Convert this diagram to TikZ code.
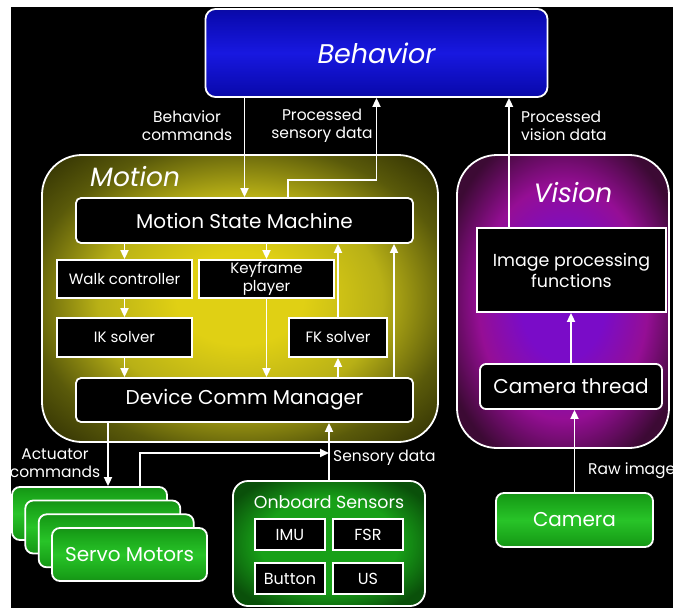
\documentclass[tikz,border=0pt]{standalone}
\usepackage{fontspec}
\setmainfont{Poppins}
\usetikzlibrary{arrows.meta,calc}

\definecolor{bdark}{HTML}{0C0C48}
\definecolor{bmid}{HTML}{0A0AB0}
\definecolor{bbright}{HTML}{1818E0}
\definecolor{mcen}{HTML}{E0D014}
\definecolor{mmid}{HTML}{B8B016}
\definecolor{medge}{HTML}{5A5A0A}
\definecolor{mcorner}{HTML}{2A2A02}
\definecolor{vcen}{HTML}{7A0CC8}
\definecolor{vmid}{HTML}{950E95}
\definecolor{vedge}{HTML}{3C0A34}
\definecolor{gbright}{HTML}{28C428}
\definecolor{gmid}{HTML}{18A018}
\definecolor{gdark}{HTML}{0A500A}

\pgfdeclareverticalshading{behshade}{100bp}{color(0bp)=(bdark); color(28bp)=(bmid); color(50bp)=(bbright); color(72bp)=(bmid); color(100bp)=(bdark)}
\pgfdeclareverticalshading{greenshade}{100bp}{color(0bp)=(gdark); color(30bp)=(gmid); color(50bp)=(gbright); color(70bp)=(gmid); color(100bp)=(gdark)}
\pgfdeclareradialshading{motionshade}{\pgfpoint{0bp}{0bp}}{color(0bp)=(mcen); color(8bp)=(mcen); color(18bp)=(mmid); color(27bp)=(medge); color(36bp)=(mcorner); color(50bp)=(mcorner)}
\pgfdeclareradialshading{visionshade}{\pgfpoint{0bp}{0bp}}{color(0bp)=(vcen); color(10bp)=(vcen); color(20bp)=(vmid); color(30bp)=(vedge); color(50bp)=(vedge)}
\pgfdeclareradialshading{sensshade}{\pgfpoint{0bp}{0bp}}{color(0bp)=(gmid); color(18bp)=(gmid); color(30bp)=(gdark); color(50bp)=(gdark)}

\tikzset{
  wline/.style={draw=white, line width=1.8pt},
  arr/.style={white, line width=1.8pt, -{Triangle[length=9pt,width=8pt]}},
  blackbox/.style={wline, fill=black, text=white, inner sep=0pt, font=\fontsize{15}{18}\selectfont, align=center},
  bigbox/.style={blackbox, rounded corners=5pt, font=\fontsize{20}{22}\selectfont},
  container/.style={wline, rounded corners=40pt, inner sep=0pt},
  greenbox/.style={wline, shading=greenshade, rounded corners=8pt, inner sep=0pt, text=white, font=\fontsize{20}{22}\selectfont},
  lbl/.style={text=white, inner sep=0pt, align=center, font=\fontsize{15.5}{18}\selectfont},
  title/.style={text=white, inner sep=0pt, font=\fontsize{26.5}{28}\selectfont\itshape},
}

\begin{document}
\begin{tikzpicture}[x=1pt, y=-1pt]
\useasboundingbox (0,0) rectangle (675,608);
\fill[black] (11,7) rectangle (673,608);

% --- Behavior ---
\node[wline, shading=behshade, rounded corners=10pt, minimum width=342pt, minimum height=88pt, inner sep=0pt,
      text=white, font=\fontsize{27}{28}\selectfont\itshape] (beh) at (376.5,53) {Behavior};

% --- Motion container and its modules ---
\node[container, shading=motionshade, minimum width=396pt, minimum height=287pt] (motion) at (240,298.5) {};
\node[title, anchor=west] (motiontitle) at (90,177) {Motion};
\node[bigbox, minimum width=337pt, minimum height=45pt] (msm) at (244.5,220.5) {Motion State Machine};
\node[blackbox, minimum width=135pt, minimum height=38pt] (walk) at (124.5,279) {Walk controller};
\node[blackbox, minimum width=135pt, minimum height=38pt] (key) at (266.5,279) {Keyframe\\player};
\node[blackbox, minimum width=135pt, minimum height=39pt] (ik) at (124.5,337.5) {IK solver};
\node[blackbox, minimum width=98pt, minimum height=39pt] (fk) at (338,337.5) {FK solver};
\node[bigbox, minimum width=337pt, minimum height=44pt] (dcm) at (244.5,400) {Device Comm Manager};

% --- Vision container and its modules ---
\node[container, shading=visionshade, minimum width=212pt, minimum height=293pt] (vision) at (563,301.5) {};
\node[title] (visiontitle) at (573,193) {Vision};
\node[blackbox, font=\fontsize{17.4}{21}\selectfont, minimum width=189pt, minimum height=84pt] (imgp) at (571.5,270) {Image processing\\functions};
\node[bigbox, rounded corners=6pt, minimum width=182pt, minimum height=45pt] (camth) at (571,386.5) {Camera thread};

% --- Hardware ---
\node[greenbox, minimum width=157pt, minimum height=54pt] (cam) at (574.5,520) {Camera};
\node[greenbox, minimum width=155pt, minimum height=53pt] (s1) at (89.5,513.5) {};
\node[greenbox, minimum width=155pt, minimum height=53pt] (s2) at (102.8,527) {};
\node[greenbox, minimum width=155pt, minimum height=53pt] (s3) at (116.2,540.8) {};
\node[greenbox, minimum width=155pt, minimum height=53pt] (s4) at (129.5,554.5) {Servo Motors};

\node[wline, shading=sensshade, rounded corners=15pt, minimum width=192pt, minimum height=125pt, inner sep=0pt] (sens) at (329,543.5) {};
\node[text=white, inner sep=0pt, font=\fontsize{17.4}{19}\selectfont] (senstitle) at (329,502) {Onboard Sensors};
\node[blackbox, font=\fontsize{16}{18}\selectfont, minimum width=70pt, minimum height=31pt] (imu) at (290,534.5) {IMU};
\node[blackbox, font=\fontsize{16}{18}\selectfont, minimum width=70pt, minimum height=31pt] (fsr) at (368,534.5) {FSR};
\node[blackbox, font=\fontsize{16}{18}\selectfont, minimum width=70pt, minimum height=31pt] (btn) at (290,578.5) {Button};
\node[blackbox, font=\fontsize{16}{18}\selectfont, minimum width=70pt, minimum height=31pt] (us) at (368,578.5) {US};

% --- Connector labels ---
\node[lbl] (lbc) at (187,126) {Behavior\\commands};
\node[lbl] (lpsd) at (322,126) {Processed\\sensory data};
\node[lbl, anchor=west, align=left] (lpvd) at (521,126) {Processed\\vision data};
\node[lbl] (lact) at (55,463) {Actuator\\commands};
\node[lbl, anchor=west] (lsd) at (333,458) {Sensory data};
\node[lbl, anchor=west] (lraw) at (588,471) {Raw image};

% --- Connectors ---
\coordinate (sjog) at (376.5,180);
\coordinate (vcol) at ([xshift=-62.5pt]imgp.north);
\coordinate (rcol) at ([xshift=149.5pt]dcm.north);
\coordinate (acol) at ([xshift=-136.5pt]dcm.south);
\coordinate (scol) at ([xshift=50.5pt]s1.north);
\coordinate (sjoin) at (329,453);

\draw[arr] (beh.south -| msm.north) -- (msm.north);
\draw[arr] ([xshift=43.5pt]msm.north) |- (sjog) -- (beh.south);
\draw[arr] (vcol) -- (vcol |- beh.south);

\draw[arr] (msm.south -| walk) -- (walk.north);
\draw[arr] (msm.south -| key) -- (key.north);
\draw[arr] (walk.south) -- (ik.north);
\draw[arr] (ik.south) -- (ik.south |- dcm.north);
\draw[arr] (key.south) -- (key.south |- dcm.north);
\draw[arr] (fk.south |- dcm.north) -- (fk.south);
\draw[arr] (fk.north) -- (fk.north |- msm.south);
\draw[arr] (rcol) -- (rcol |- msm.south);

\draw[arr] (acol) -- (acol |- s1.north);
\draw[arr] (scol) |- (sjoin);
\draw[arr] (sens.north) -- (sens.north |- dcm.south);

\draw[arr] (cam.north) -- (cam.north |- camth.south);
\draw[arr] (camth.north) -- (camth.north |- imgp.south);
\end{tikzpicture}
\end{document}
